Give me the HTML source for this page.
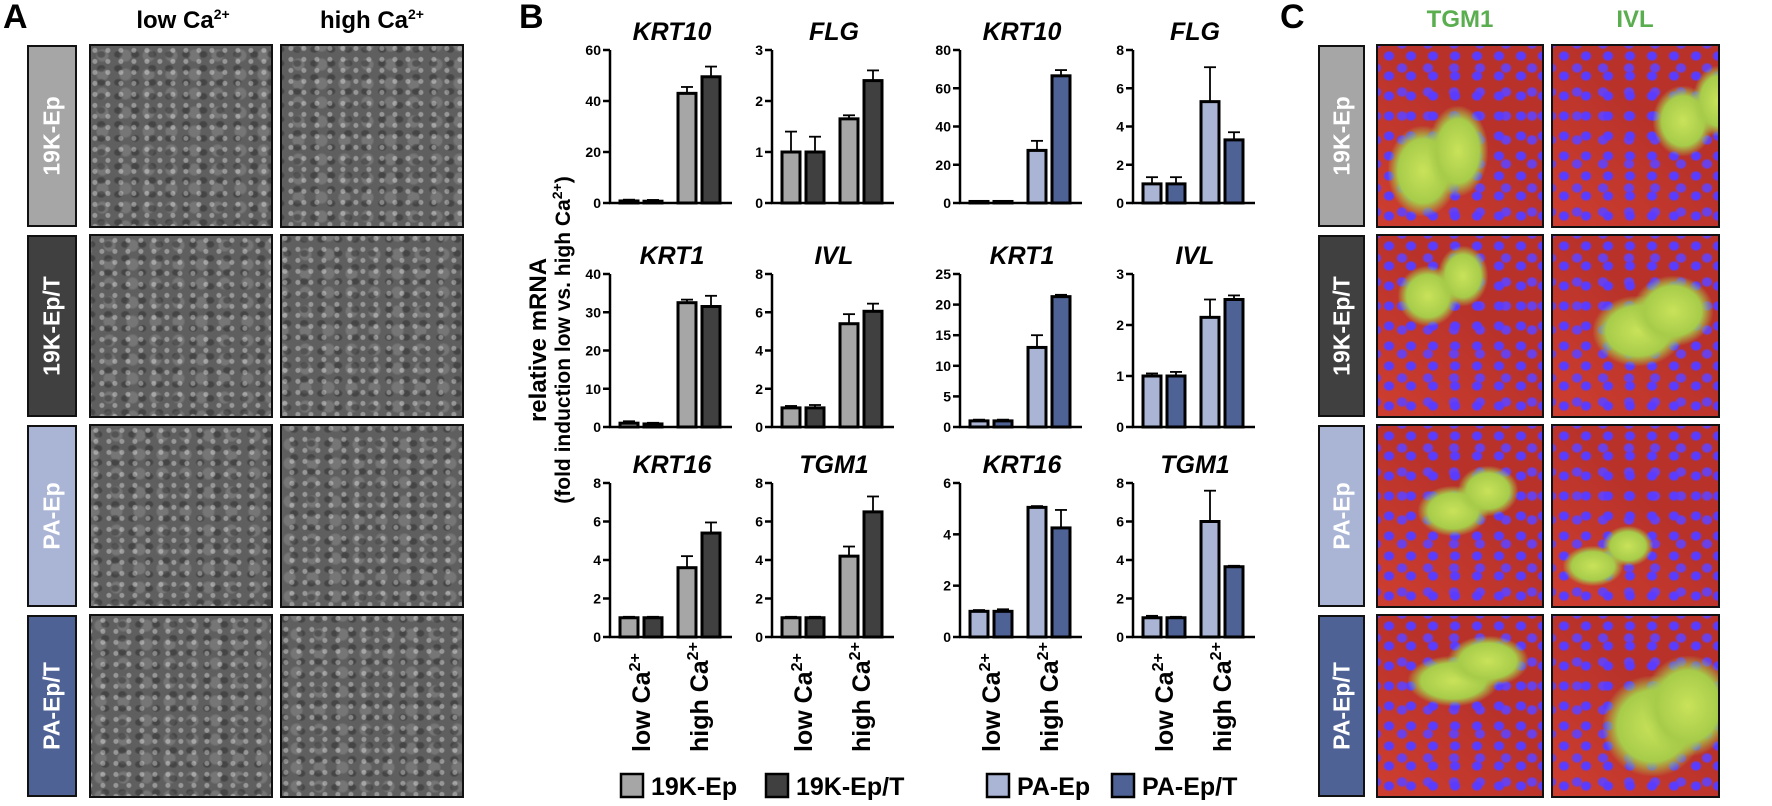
<!DOCTYPE html>
<html><head><meta charset="utf-8"><style>
body{margin:0;background:#fff;width:1772px;height:806px;overflow:hidden;font-family:"Liberation Sans",Arial,sans-serif;position:relative}
.abs{position:absolute}
.plab{position:absolute;font-weight:bold;font-size:34px}
.hdr{position:absolute;font-weight:bold;font-size:24px;text-align:center;width:200px}
.lbox{position:absolute;border:2.5px solid #111;box-sizing:border-box}
.lbox span{position:absolute;left:50%;top:50%;transform:translate(-50%,-50%) rotate(-90deg);white-space:nowrap;color:#fff;font-weight:bold;font-size:23px}
.img{position:absolute;border:2.5px solid #111;box-sizing:border-box;overflow:hidden}
.phase{background:
 radial-gradient(circle at 30% 40%,rgba(255,255,255,.35) 0 2px,transparent 3px) 0 0/13px 11px,
 radial-gradient(ellipse at 60% 60%,rgba(20,20,20,.35) 0 3px,transparent 5px) 0 0/17px 14px,
 radial-gradient(circle at 50% 50%,rgba(220,220,220,.18) 0 5px,transparent 7px) 0 0/23px 19px,
 #5f5f5f}
.fluo{background:
 radial-gradient(ellipse at 50% 50%,#5a3cff 0 4px,transparent 6px) 0 0/22px 20px,
 radial-gradient(ellipse at 50% 50%,#6a40e8 0 4px,transparent 6px) 11px 10px/26px 24px,
 linear-gradient(45deg,rgba(255,90,60,.3),transparent 60%),
 #b8322a}
.blob{position:absolute;background:radial-gradient(ellipse,#c9e25a 0,#a7cc4a 50%,rgba(160,200,70,0) 72%)}
</style></head><body>
<div class="plab" style="left:3px;top:-2px">A</div>
<div class="plab" style="left:519px;top:-2px">B</div>
<div class="plab" style="left:1280px;top:-2px">C</div>
<div class="hdr" style="left:83px;top:6px">low Ca<sup style="font-size:14px">2+</sup></div>
<div class="hdr" style="left:272px;top:6px">high Ca<sup style="font-size:14px">2+</sup></div>
<div class="hdr" style="left:1360px;top:6px;color:#5aae50">TGM1</div>
<div class="hdr" style="left:1535px;top:6px;color:#5aae50">IVL</div>
<div id="panels"></div>
<svg id="chart" class="abs" style="left:0;top:0" width="1772" height="806"></svg>
<script>
const rowNames=['19K-Ep','19K-Ep/T','PA-Ep','PA-Ep/T'];
const rowColors=['#a6a6a6','#404040','#aab5d6','#4f6296'];
const P=document.getElementById('panels');
const tops=[45,235,425,615];
const blobs=[[[10,80,70,90],[100,40,60,70]],[[20,30,60,60],[40,60,90,70]],[[40,60,70,50],[10,120,60,40]],[[30,40,90,50],[50,60,100,100]]];
for(let r=0;r<4;r++){
 let b=document.createElement('div');b.className='lbox';
 b.style.cssText=`left:27px;top:${tops[r]}px;width:50px;height:182px;background:${rowColors[r]}`;
 b.innerHTML='<span>'+rowNames[r]+'</span>';
 
 
 P.appendChild(b);
 let c=b.cloneNode(true);c.style.left='1318px';c.style.width='47px';
 
 
 P.appendChild(c);
 [89,280].forEach((x,i)=>{let d=document.createElement('div');d.className='img phase';
  d.style.cssText=`left:${x}px;top:${tops[r]-1}px;width:184px;height:184px;background-position:${r*7+i*5}px ${i*9}px`;
  
  
  P.appendChild(d);});
 [[1376,168],[1551,169]].forEach((xw,i)=>{let d=document.createElement('div');d.className='img fluo';
  d.style.cssText=`left:${xw[0]}px;top:${tops[r]-1}px;width:${xw[1]}px;height:184px`;
  let bl=blobs[r][i];let e=document.createElement('div');e.className='blob';
  e.style.cssText=`left:${bl[0]}px;top:${bl[1]}px;width:${bl[2]}px;height:${bl[3]}px`;d.appendChild(e);
  let e2=document.createElement('div');e2.className='blob';
  e2.style.cssText=`left:${bl[0]+40}px;top:${bl[1]-20}px;width:${bl[2]-10}px;height:${bl[3]}px`;d.appendChild(e2);
  
  
  P.appendChild(d);});
}
</script>
<script>
// chart data
const genes=['KRT10','FLG','KRT1','IVL','KRT16','TGM1','KRT10','FLG','KRT1','IVL','KRT16','TGM1'];
const yMax=[60,3,40,8,8,8,80,8,25,3,6,8];
const yStep=[20,1,10,2,2,2,20,2,5,1,2,2];
const values=[[0.8,0.7,43,49.5],[1,1,1.65,2.4],[1,0.8,32.5,31.5],[1,1,5.4,6.05],[1,1,3.6,5.4],[1,1,4.2,6.5],
 [0.8,0.8,27.5,66.5],[1,1,5.3,3.3],[1,1,13,21.3],[1,1,2.15,2.5],[1,1,5.05,4.25],[1,1,6,3.65]];
const errors=[[0.5,0.5,2.5,4],[0.4,0.3,0.07,0.2],[0.5,0.3,0.8,2.8],[0.1,0.15,0.5,0.4],[0.05,0.05,0.6,0.55],[0.05,0.05,0.5,0.8],
 [0.3,0.3,5,3],[0.35,0.35,1.8,0.4],[0.2,0.2,2,0.3],[0.05,0.08,0.35,0.08],[0.05,0.08,0.05,0.7],[0.1,0.05,1.6,0.05]];
const xLabels=['low Ca','high Ca'];
const legendNames=['19K-Ep','19K-Ep/T','PA-Ep','PA-Ep/T'];

const NS='http://www.w3.org/2000/svg';
const S=document.getElementById('chart');
function mk(t,a,txt){const e=document.createElementNS(NS,t);for(const k in a)e.setAttribute(k,a[k]);if(txt!=null)e.textContent=txt;S.appendChild(e);return e;}
const axX=[610,772,960,1133], rowTop=[50,274,483], rowZero=[203,427,637];
const fillL=['#a6a6a6','#404040','#aab5d6','#4f6296'];
const offs=[10,34,68,92], bw=18;
for(let i=0;i<12;i++){
 const col=i%2+(i>=6?2:0), row=Math.floor((i%6)/2);
 const x0=axX[col], top=rowTop[row], zero=rowZero[row];
 const y=v=>zero-(v/yMax[i])*(zero-top);
 const pal=i>=6?[fillL[2],fillL[3]]:[fillL[0],fillL[1]];
 let t=mk('text',{x:x0+62,y:top-10,'text-anchor':'middle','font-size':25,'font-weight':'bold','font-style':'italic'},genes[i]);
 
 
 for(let v=0;v<=yMax[i]+1e-9;v+=yStep[i]){
  mk('line',{x1:x0-7,x2:x0,y1:y(v),y2:y(v),stroke:'#000','stroke-width':2.5});
  let tl=mk('text',{x:x0-9,y:y(v)+5,'text-anchor':'end','font-size':14,'font-weight':'bold'},String(v));
  
  
 }
 for(let k=0;k<4;k++){
  const v=values[i][k], e=errors[i][k], bx=x0+offs[k];
  const yt=y(v+e);
  mk('line',{x1:bx+bw/2,x2:bx+bw/2,y1:y(v),y2:yt,stroke:'#000','stroke-width':1.8});
  mk('line',{x1:bx+bw/2-6,x2:bx+bw/2+6,y1:yt,y2:yt,stroke:'#000','stroke-width':1.8});
  let r=mk('rect',{x:bx,y:y(v),width:bw,height:Math.max(zero-y(v),1.5),fill:pal[k%2],stroke:'#000','stroke-width':3});
  
  
 }
 mk('line',{x1:x0,x2:x0,y1:top,y2:zero,stroke:'#000','stroke-width':2.5});
 mk('line',{x1:x0-1,x2:x0+122,y1:zero,y2:zero,stroke:'#000','stroke-width':2.5});
 if(row===2){
  [0,1].forEach(g=>{
   const cx=x0+(offs[g*2]+offs[g*2+1]+bw)/2+9;
   let lt=mk('text',{x:cx,y:752,'text-anchor':'start','font-size':25,'font-weight':'bold',transform:`rotate(-90 ${cx} 752)`});
   lt.textContent=xLabels[g];
   const sp=document.createElementNS(NS,'tspan');sp.setAttribute('font-size',16);sp.setAttribute('dy',-10);sp.textContent='2+';lt.appendChild(sp);
   
   
  });
 }
}
const legX=[621,766,987,1112];
for(let k=0;k<4;k++){
 let r=mk('rect',{x:legX[k],y:774,width:22,height:23,fill:fillL[k],stroke:'#000','stroke-width':2.5});
 
 
 let t=mk('text',{x:legX[k]+30,y:795,'font-size':25,'font-weight':'bold'},legendNames[k]);
 
 
}
let a1=mk('text',{x:546,y:340,'text-anchor':'middle','font-size':24,'font-weight':'bold',transform:'rotate(-90 546 340)'},'relative mRNA');


let a2=mk('text',{x:570,y:340,'text-anchor':'middle','font-size':21,'font-weight':'bold',transform:'rotate(-90 570 340)'},'(fold induction low vs. high Ca');
const s2=document.createElementNS(NS,'tspan');s2.setAttribute('font-size',14);s2.setAttribute('dy',-8);s2.textContent='2+';a2.appendChild(s2);
const s3=document.createElementNS(NS,'tspan');s3.setAttribute('dy',8);s3.textContent=')';a2.appendChild(s3);


</script>
</body></html>
